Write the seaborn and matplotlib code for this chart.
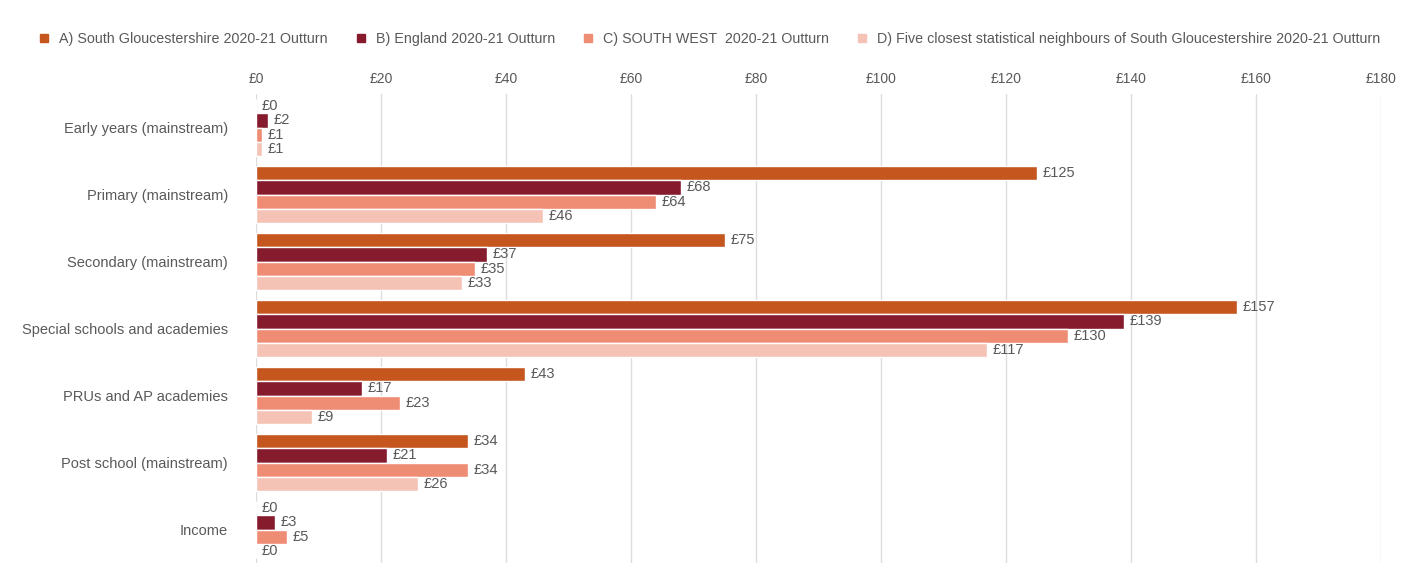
import matplotlib
matplotlib.use("Agg")
import matplotlib.pyplot as plt
import seaborn as sns
import pandas as pd
from matplotlib.lines import Line2D

categories = ["Early years (mainstream)", "Primary (mainstream)", "Secondary (mainstream)",
              "Special schools and academies", "PRUs and AP academies",
              "Post school (mainstream)", "Income"]
series_names = ["A) South Gloucestershire 2020-21 Outturn",
                "B) England 2020-21 Outturn",
                "C) SOUTH WEST  2020-21 Outturn",
                "D) Five closest statistical neighbours of South Gloucestershire 2020-21 Outturn"]
vals_a = [0, 125, 75, 157, 43, 34, 0]
vals_b = [2, 68, 37, 139, 17, 21, 3]
vals_c = [1, 64, 35, 130, 23, 34, 5]
vals_d = [1, 46, 33, 117, 9, 26, 0]
x_ticks = [0, 20, 40, 60, 80, 100, 120, 140, 160, 180]
colors = ["#C4561E", "#861B2D", "#EF8C74", "#F4C3B6"]

rows = []
for name, vals in zip(series_names, [vals_a, vals_b, vals_c, vals_d]):
    for c, v in zip(categories, vals):
        rows.append({"Category": c, "Series": name, "Value": v})
df = pd.DataFrame(rows)

sns.set_theme(style="white")
plt.rcParams["font.family"] = ["Liberation Sans", "DejaVu Sans"]
text_col = "#595959"

fig = plt.figure(figsize=(14.06, 5.63), dpi=100)
ax = fig.add_axes([0.182, 0.0, 0.800, 0.833])

sns.barplot(data=df, y="Category", x="Value", hue="Series", order=categories,
            hue_order=series_names, palette=colors, orient="h", width=0.84,
            saturation=1, ax=ax, legend=False)

for cont in ax.containers:
    ax.bar_label(cont, labels=[f"£{v:.0f}" for v in cont.datavalues],
                 padding=4, fontsize=10.5, color=text_col)

ax.set_xlim(0, 180)
ax.set_ylim(6.5, -0.5)
ax.set_xticks(x_ticks)
ax.set_xticklabels([f"£{t}" for t in x_ticks])
ax.xaxis.tick_top()
ax.tick_params(axis="x", length=0, pad=6, labelsize=10, labelcolor=text_col)
ax.tick_params(axis="y", length=0, pad=20, labelsize=10.5, labelcolor=text_col)
ax.set_xlabel("")
ax.set_ylabel("")
ax.grid(axis="x", color="#DCDCDC", linewidth=1)
ax.set_axisbelow(True)
for s in ax.spines.values():
    s.set_visible(False)

handles = [Line2D([0], [0], marker="s", linestyle="", markersize=6,
                  markerfacecolor=c, markeredgecolor=c) for c in colors]
fig.legend(handles, series_names, loc="center left", bbox_to_anchor=(0.012, 0.93),
           ncol=4, frameon=False, fontsize=10.3, handletextpad=0.05, columnspacing=1.3,
           labelcolor=text_col)

fig.savefig("out.png", dpi=100)
